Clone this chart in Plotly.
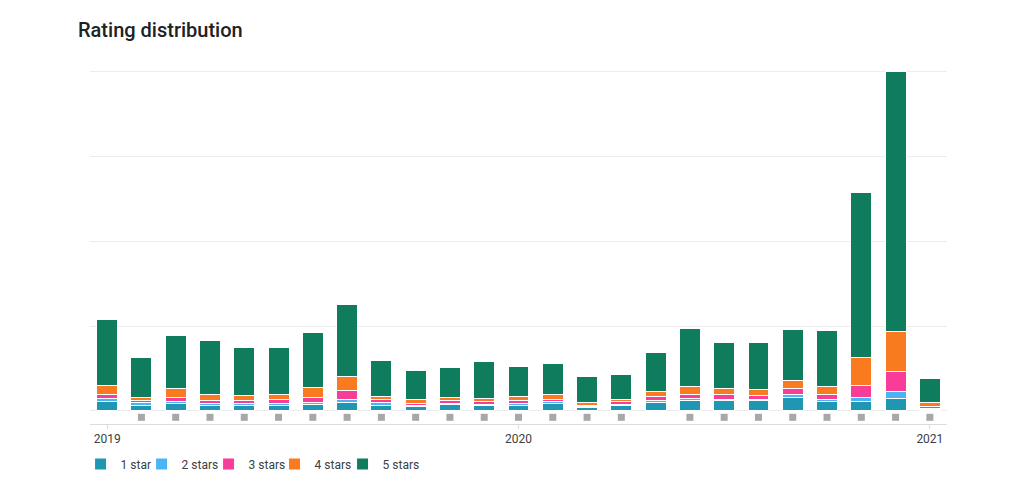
import plotly.graph_objects as go

months = [f"{y}-{m:02d}" for y, m in [(2019, i) for i in range(1, 13)] + [(2020, i) for i in range(1, 13)] + [(2021, 1)]]

one_star = [11, 7, 9, 7, 7, 7, 8, 10, 7, 5, 8, 6, 7, 9, 4, 7, 10, 12, 12, 12, 16, 11, 11, 15, 2]
two_stars = [4, 3, 2, 2, 2, 2, 2, 3, 3, 2, 1, 2, 2, 2, 1, 1, 2, 3, 2, 1, 4, 2, 5, 8, 1]
three_stars = [5, 2, 5, 3, 3, 4, 6, 11, 3, 2, 3, 3, 3, 3, 1, 3, 5, 4, 5, 5, 6, 6, 14, 24, 2]
four_stars = [10, 4, 10, 8, 6, 7, 12, 17, 4, 4, 4, 4, 5, 5, 4, 3, 6, 10, 7, 7, 10, 10, 33, 47, 5]
five_stars = [78, 47, 63, 63, 57, 55, 65, 85, 42, 35, 35, 43, 36, 37, 31, 29, 46, 68, 55, 56, 60, 66, 195, 306, 28]

# months with a release marker under the bar
markers = [0, 1, 1, 1, 1, 1, 1, 1, 1, 1, 1, 1, 1, 1, 1, 1, 0, 1, 1, 1, 1, 1, 1, 1, 1]

series = [
    ("1 star", one_star, "#1f97b3", 16),
    ("2 stars", two_stars, "#4ab3f4", 22),
    ("3 stars", three_stars, "#f73d98", 21),
    ("4 stars", four_stars, "#fa7a1f", 23),
    ("5 stars", five_stars, "#0f7d5d", 50),
]

fig = go.Figure()
for name, vals, color, lw in series:
    fig.add_trace(go.Bar(
        x=months, y=vals, name=name, legendwidth=lw,
        marker=dict(color=color, line=dict(color="white", width=1)),
    ))

mx = [m for m, k in zip(months, markers) if k]
fig.add_trace(go.Scatter(
    x=mx, y=[-7.5] * len(mx), mode="markers", showlegend=False,
    marker=dict(symbol="square", size=7, color="#a8a8a8"),
    hoverinfo="skip",
))

fig.update_layout(
    barmode="stack",
    bargap=0.39,
    width=1024, height=483,
    margin=dict(l=82, r=85, t=61, b=67),
    paper_bgcolor="white", plot_bgcolor="white",
    font=dict(family="Roboto, Arial, sans-serif", color="#3c4043", size=12),
    title=dict(text="Rating distribution", x=70 / 1024, xref="container", xanchor="left",
               y=1 - 22 / 483, yref="container", yanchor="middle",
               font=dict(family="Roboto, Arial, sans-serif", size=20, color="#202124", weight=500),
               pad=dict(l=0, t=0, b=0, r=0)),
    legend=dict(orientation="h", x=-0.011, xanchor="left", y=-40 / 355, yanchor="middle",
                font=dict(size=12, color="#3c4043"), traceorder="normal"),
    showlegend=True,
)
fig.update_xaxes(
    type="category", range=[-0.5, 24.5],
    tickvals=["2019-01", "2020-01", "2021-01"], ticktext=["2019", "2020", "2021"],
    showline=True, linecolor="#dadce0", linewidth=1,
    ticks="outside", ticklen=4, tickcolor="#dadce0",
    showgrid=False, tickfont=dict(size=12, color="#3c4043"),
)
fig.update_yaxes(
    range=[-15.4, 403.5], tickvals=[0, 100, 200, 300, 400],
    showticklabels=False, showgrid=True, gridcolor="#ececec", gridwidth=1,
    zeroline=True, zerolinecolor="#ececec", zerolinewidth=1,
)

fig.write_html("out.html")
